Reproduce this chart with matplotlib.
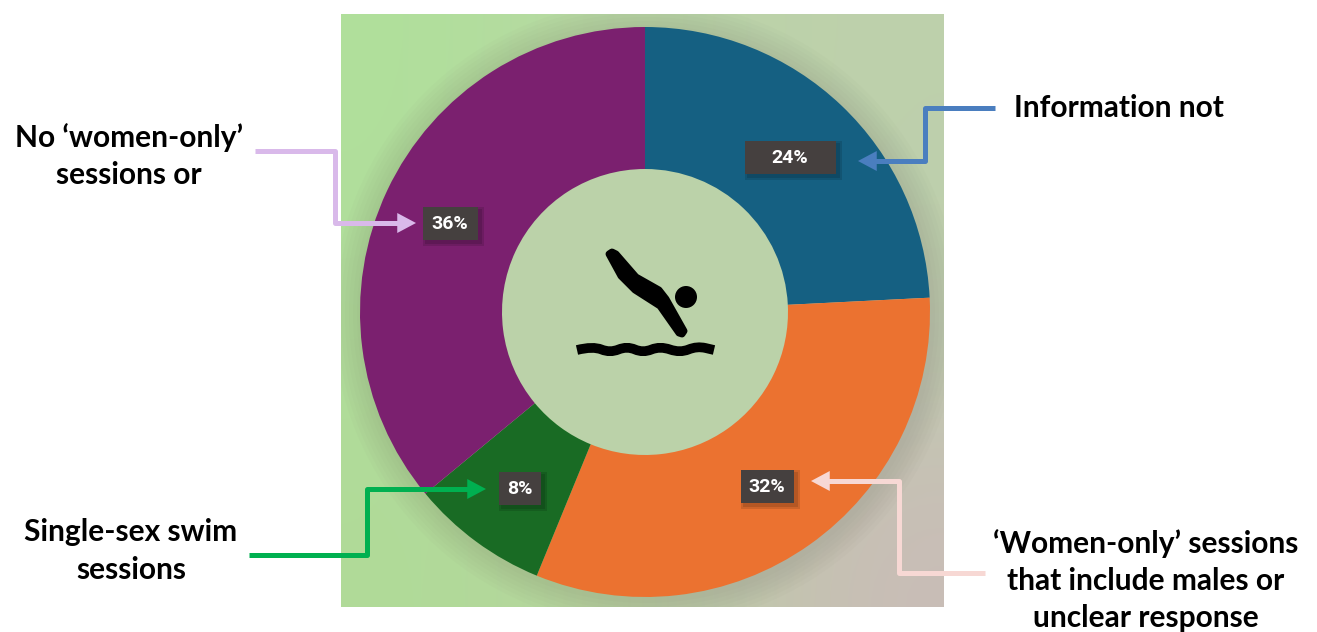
import numpy as np
import matplotlib.pyplot as plt
from matplotlib.patches import Circle, Polygon, PathPatch, Rectangle, Wedge
from matplotlib.path import Path

# data
shares = [24.2, 32.0, 7.8, 36]
share_labels = ['24%', '32%', '8%', '36%']
slice_colors = ['#156082', '#EB7230', '#196B24', '#7B206F']
label_pos = [(790, 157), (767, 486), (520, 488), (450, 223)]
label_w = [91, 53, 42, 55]

W, H = 1317, 632
cx, cy, R, r_in = 645, H - 312, 285, 143


def y(py):
    # picture rows run downwards, axes y runs up
    return H - py


fig = plt.figure(figsize=(W / 100, H / 100), dpi=100)
ax = fig.add_axes([0, 0, 1, 1])

# background panel, greenish left to greyish bottom right
bg_colors = np.array([
    [[176, 224, 155], [186, 214, 166], [190, 208, 172]],
    [[176, 222, 155], [187, 211, 166], [190, 206, 174]],
    [[176, 219, 152], [184, 210, 160], [202, 188, 184]],
]) / 255
panel = (341, 944, y(607), y(14))
ax.imshow(bg_colors, extent=panel, origin='upper', aspect='auto',
          interpolation='bicubic', zorder=0)
clip = Rectangle((341, y(607)), 603, 593, transform=ax.transData)

# soft shadow round the outside of the ring
for d in range(28, 0, -4):
    ring = Wedge((cx + 1, cy - 2), R + d, 0, 360, width=d + 5, fc='#77776a', ec='none',
                 alpha=0.03, zorder=1)
    ax.add_patch(ring)
    ring.set_clip_path(clip)

wedges, _ = ax.pie(shares, colors=slice_colors, startangle=90, counterclock=False,
                   center=(cx, cy), radius=R, frame=True,
                   wedgeprops=dict(width=R - r_in, linewidth=0))
for w in wedges:
    w.set_zorder(2)

# the hole is one flat tone
ax.add_patch(Circle((cx, cy), r_in, fc='#BBD2A9', ec='none', zorder=1.5))

# diver icon
body = [(609, 254), (612, 252), (616, 254), (636, 277), (659, 290), (666, 299),
        (684, 331), (682, 334), (679, 333), (660, 306), (635, 290), (621, 276)]
ax.add_patch(Polygon([(a, y(b)) for a, b in body], closed=True, fc='k', ec='k', lw=5,
                     joinstyle='round', zorder=3))
ax.add_patch(Circle((686, y(297)), 11, fc='k', ec='none', zorder=3))
wave_x = [577, 593, 610, 627, 643, 660, 680, 697, 714]
wave_y = [350, 346, 353, 346, 353, 346, 353, 346, 350]
verts = [(wave_x[0], y(wave_y[0]))]
codes = [Path.MOVETO]
for i in range(1, len(wave_x) - 1):
    # control point at each crest, on-curve point half way to the next one
    verts.append((wave_x[i], y(wave_y[i])))
    verts.append(((wave_x[i] + wave_x[i + 1]) / 2, y((wave_y[i] + wave_y[i + 1]) / 2)))
    codes += [Path.CURVE3, Path.CURVE3]
verts.append((wave_x[-1], y(wave_y[-1])))
codes.append(Path.LINETO)
ax.add_patch(PathPatch(Path(verts, codes), fc='none', ec='k', lw=7, capstyle='butt', zorder=3))

# percent boxes
for (px, py), w, txt in zip(label_pos, label_w, share_labels):
    h = 33
    for grow in (3, 1):
        ax.add_patch(Rectangle((px - w / 2 + 3 - grow, y(py + h / 2 + 3 + grow)), w + 2 * grow,
                               h + 2 * grow, fc='k', ec='none', alpha=0.12, zorder=4))
    ax.add_patch(Rectangle((px - w / 2, y(py + h / 2)), w, h, fc='#45403F', ec='none', zorder=5))
    ax.text(px, y(py + 1), txt, color='white', fontsize=14, fontweight='bold', family='Roboto',
            ha='center', va='center', zorder=6)

# elbow arrows
arrows = [
    ([995, 925, 925, 872], [108, 108, 161, 161], (858, 161), '#4A7EBF'),
    ([255, 335, 335, 400], [151, 151, 223, 223], (416, 223), '#D9B9EA'),
    ([249, 367, 367, 470], [555, 555, 489, 489], (486, 489), '#00B050'),
    ([985, 899, 899, 826], [573, 573, 481, 481], (811, 481), '#F7D8D4'),
]
for xs, ys, tip, col in arrows:
    ax.plot(xs, [y(v) for v in ys], color=col, lw=3.6, solid_capstyle='butt',
            solid_joinstyle='round', zorder=7)
    ax.annotate('', xy=(tip[0], y(tip[1])), xytext=(xs[-1], y(ys[-1])),
                arrowprops=dict(arrowstyle='-|>,head_length=0.75,head_width=0.4', color=col,
                                lw=0, shrinkA=0, shrinkB=0, mutation_scale=18), zorder=7)

# category captions
caption = dict(fontsize=21.5, fontweight='bold', family='Lato', color='k', ha='center',
               va='center', linespacing=1.0)
ax.text(1119, y(108), 'Information not', **caption)
ax.text(129, y(138), 'No ‘women-only’', **caption)
ax.text(129, y(175), 'sessions or', **caption)
ax.text(131, y(532), 'Single-sex swim', **caption)
ax.text(131, y(570), 'sessions', **caption)
ax.text(1146, y(544), '‘Women-only’ sessions', **caption)
ax.text(1146, y(581), 'that include males or', **caption)
ax.text(1146, y(618), 'unclear response', **caption)

ax.set_xlim(0, W)
ax.set_ylim(0, H)
ax.set_aspect('auto')
ax.axis('off')
fig.savefig('out.png', dpi=100)
